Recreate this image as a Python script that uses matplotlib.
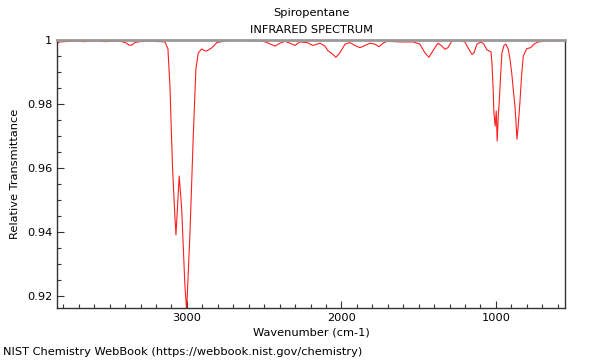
import matplotlib
matplotlib.use('Agg')
import matplotlib.pyplot as plt
from matplotlib.ticker import MultipleLocator, FormatStrFormatter

# Spectrum points (wavenumber cm-1, relative transmittance)
wavenumber = [
    3841, 3822, 3790, 3725, 3660, 3595, 3531, 3466, 3421, 3395,
    3375, 3356, 3337, 3304, 3240, 3175, 3142, 3123, 3110, 3093,
    3078, 3071, 3050, 3034, 3013, 3002, 2981, 2959, 2942, 2927,
    2905, 2883, 2871, 2838, 2806, 2741, 2657, 2592, 2515, 2482,
    2430, 2398, 2366, 2333, 2301, 2269, 2223, 2184, 2139, 2107,
    2087, 2062, 2036, 2010, 1977, 1945, 1913, 1880, 1848, 1816,
    1783, 1757, 1731, 1706, 1621, 1537, 1492, 1460, 1434, 1408,
    1375, 1350, 1330, 1311, 1285, 1246, 1201, 1181, 1155, 1142,
    1123, 1097, 1078, 1058, 1032, 1026, 1019, 1013, 1005, 998,
    992, 985, 979, 970, 961, 948, 935, 920, 909, 898,
    888, 877, 870, 864, 856, 845, 834, 823, 801, 775,
    754, 726, 672, 586, 553,
]
transmittance = [
    0.9989, 0.9994, 0.9995, 0.9996, 0.9995, 0.9997, 0.9995, 0.9996, 0.9995, 0.9991,
    0.9984, 0.9984, 0.9992, 0.9995, 0.9996, 0.9995, 0.9994, 0.9972, 0.9856, 0.9597,
    0.9450, 0.9391, 0.9575, 0.9472, 0.9231, 0.9155, 0.9388, 0.9700, 0.9909, 0.9959,
    0.9972, 0.9966, 0.9966, 0.9976, 0.9992, 0.9998, 1.0000, 0.9997, 0.9997, 0.9992,
    0.9981, 0.9990, 0.9996, 0.9990, 0.9983, 0.9994, 0.9992, 0.9983, 0.9990, 0.9981,
    0.9966, 0.9958, 0.9946, 0.9960, 0.9987, 0.9992, 0.9983, 0.9976, 0.9983, 0.9990,
    0.9987, 0.9979, 0.9990, 0.9996, 0.9994, 0.9994, 0.9987, 0.9960, 0.9946, 0.9966,
    0.9990, 0.9981, 0.9971, 0.9976, 0.9997, 1.0000, 0.9994, 0.9976, 0.9955, 0.9960,
    0.9987, 0.9994, 0.9987, 0.9969, 0.9963, 0.9929, 0.9856, 0.9773, 0.9731, 0.9778,
    0.9684, 0.9763, 0.9804, 0.9888, 0.9960, 0.9983, 0.9987, 0.9971, 0.9940, 0.9898,
    0.9846, 0.9794, 0.9742, 0.9690, 0.9731, 0.9804, 0.9888, 0.9950, 0.9973, 0.9976,
    0.9987, 0.9994, 0.9997, 0.9998, 1.0000,
]

fs = 8.2

fig = plt.figure(figsize=(6.0, 3.6), dpi=100)
ax = fig.add_axes([57/600, 1 - 308/360, 508/600, 268/360])

ax.plot(wavenumber, transmittance, color='#ff2020', lw=0.8)

ax.set_xlim(3841, 553)
ax.set_ylim(0.91625, 1.0)

ax.xaxis.set_major_locator(MultipleLocator(1000))
ax.xaxis.set_minor_locator(MultipleLocator(100))
ax.yaxis.set_major_locator(MultipleLocator(0.02))
ax.yaxis.set_minor_locator(MultipleLocator(0.005))
ax.yaxis.set_major_formatter(FormatStrFormatter('%g'))
ax.xaxis.set_major_formatter(FormatStrFormatter('%d'))

ax.tick_params(which='both', direction='in', labelsize=fs, color='#333333')
ax.tick_params(which='major', length=5, width=0.8)
ax.tick_params(which='minor', length=3, width=0.8)
ax.tick_params(top=False, right=False)

for side in ['left', 'right', 'bottom']:
    ax.spines[side].set_color('#333333')
    ax.spines[side].set_linewidth(1.0)
ax.spines['top'].set_color('#999999')
ax.spines['top'].set_linewidth(2.0)

fig.text(311/600, 1 - 13/360, 'Spiropentane', fontsize=fs, ha='center', va='center')
fig.text(311/600, 1 - 30/360, 'INFRARED SPECTRUM', fontsize=fs, ha='center', va='center')
ax.set_xlabel('Wavenumber (cm-1)', fontsize=fs, labelpad=3)
ax.set_ylabel('Relative Transmittance', fontsize=fs, labelpad=5)
fig.text(3/600, 1 - 352/360, 'NIST Chemistry WebBook (https://webbook.nist.gov/chemistry)',
         fontsize=fs, va='center', ha='left')

plt.savefig('out.png', dpi=100)
